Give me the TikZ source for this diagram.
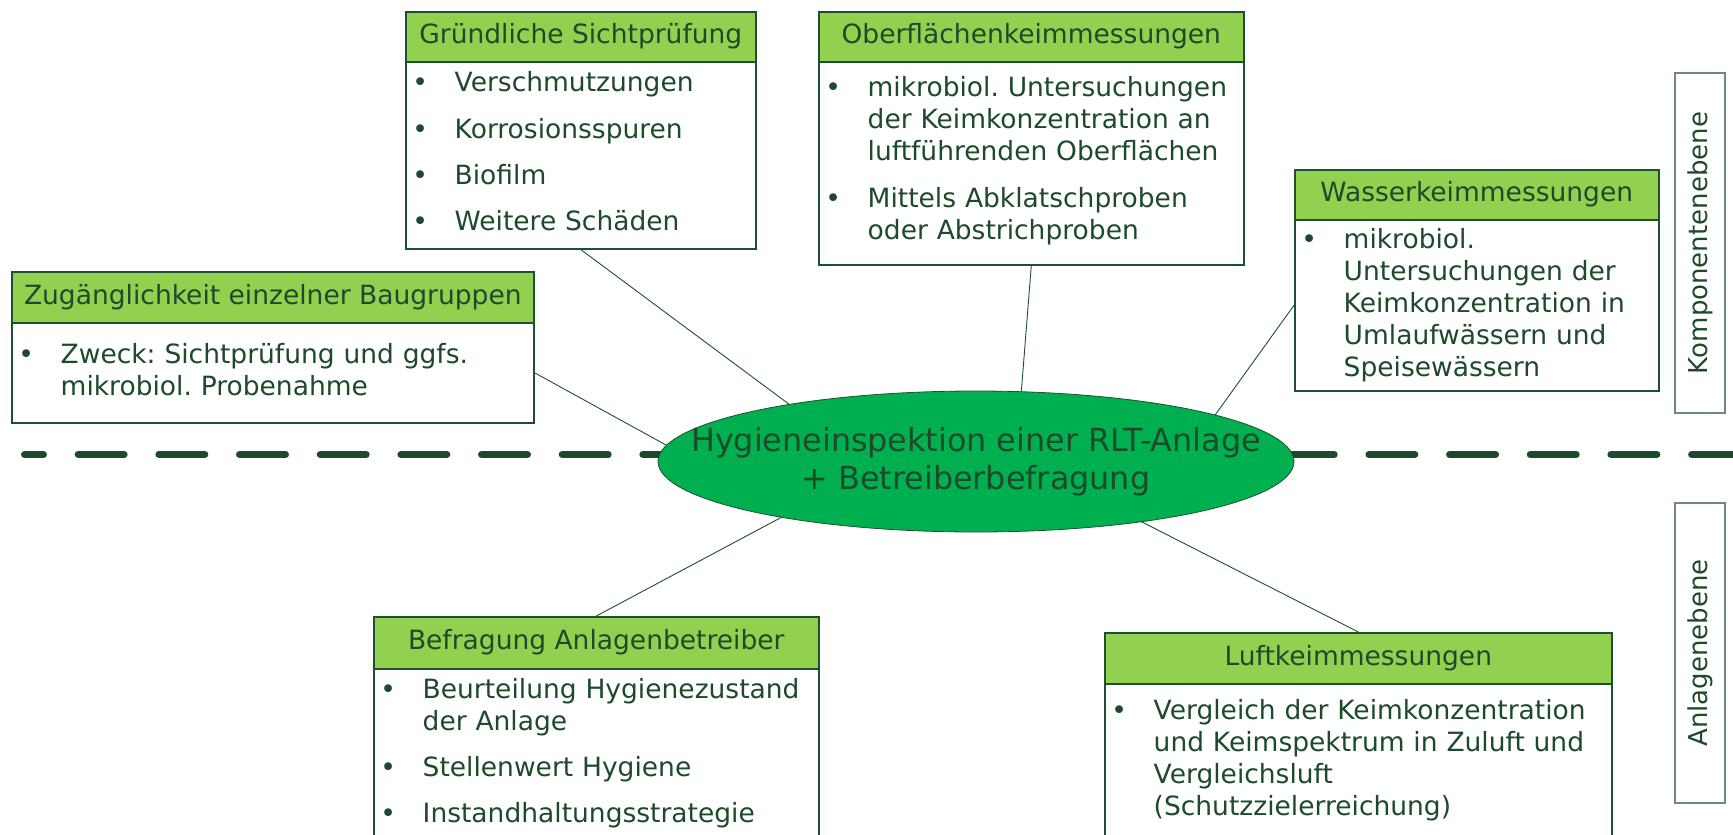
\documentclass[tikz,border=0pt]{standalone}
\usepackage{fontspec}
\setmainfont{DejaVu Sans}
\usetikzlibrary{shapes.geometric}

\definecolor{txtgreen}{HTML}{1C4A2A}
\definecolor{linegreen}{HTML}{1E5030}
\definecolor{headgreen}{HTML}{92D050}
\definecolor{ovalgreen}{HTML}{00B050}
\definecolor{sidegray}{HTML}{6E8C74}

\newcommand{\itm}[1]{\hangindent=49.5pt\hangafter=1\noindent
  \makebox[49.5pt][l]{\hspace{15pt}\makebox[0pt][c]{\textbullet}}#1\par}

\begin{document}
\begin{tikzpicture}[x=1pt, y=-1pt,
    head/.style={draw=linegreen, line width=1.6pt, fill=headgreen, anchor=north west,
      inner sep=0pt, text=txtgreen, font=\fontsize{26.5}{32}\selectfont,
      text height=20pt, text depth=6.5pt},
    body/.style={draw=linegreen, line width=1.6pt, fill=white, anchor=north west, inner sep=0pt},
    itemtext/.style={anchor=base west, inner sep=0pt, text=txtgreen,
      font=\fontsize{26.5}{32}\selectfont,
      execute at begin node={\raggedright\frenchspacing\setlength{\parskip}{14.3pt}}},
    hub/.style={ellipse, draw=linegreen, line width=0.8pt, fill=ovalgreen,
      minimum width=636pt, minimum height=141pt, inner sep=0pt, outer sep=0pt},
    hubtext/.style={text=txtgreen, font=\fontsize{31.8}{38.3}\selectfont, align=center},
    link/.style={draw=linegreen, line width=0.9pt},
    level/.style={draw=sidegray, line width=1.5pt, rotate=90, minimum height=50pt,
      inner sep=0pt, text=txtgreen, font=\fontsize{26}{30}\selectfont}
  ]
\useasboundingbox (0,0) rectangle (1733,835);
\clip (0,0) rectangle (1733,835);

\draw[txtgreen, line width=7pt, line cap=round, dash pattern=on 46pt off 34.67pt,
  dash phase=27pt] (24.5,454.5) -- (1745,454.5);

\node[body, minimum width=350pt, minimum height=187pt] (gs) at (405,61) {};
\node[head, minimum width=350pt, minimum height=50pt] (gsh) at (405,11) {Gründliche Sichtprüfung};
\node[itemtext, text width=344pt] at (405,91.7)
  {\itm{Verschmutzungen}\itm{Korrosionsspuren}\itm{Biofilm}\itm{Weitere Schäden}};

\node[body, minimum width=425pt, minimum height=203pt] (of) at (818,61) {};
\node[head, minimum width=425pt, minimum height=50pt] (ofh) at (818,11) {Oberflächenkeimmessungen};
\node[itemtext, text width=419pt] at (818,96.7)
  {\itm{mikrobiol. Untersuchungen\newline der Keimkonzentration an\newline luftführenden Oberflächen}%
   \itm{Mittels Abklatschproben\newline oder Abstrichproben}};

\node[body, minimum width=364pt, minimum height=171pt] (wk) at (1294,219) {};
\node[head, minimum width=364pt, minimum height=50pt] (wkh) at (1294,169) {Wasserkeimmessungen};
\node[itemtext, text width=358pt] at (1294,248.5)
  {\itm{mikrobiol.\newline Untersuchungen der\newline Keimkonzentration in\newline Umlaufwässern und\newline Speisewässern}};

\node[body, minimum width=522pt, minimum height=100pt] (zb) at (11,322) {};
\node[head, minimum width=522pt, minimum height=51pt] (zbh) at (11,271) {Zugänglichkeit einzelner Baugruppen};
\node[itemtext, text width=516pt] at (11,363.3)
  {\itm{Zweck: Sichtprüfung und ggfs.\newline mikrobiol. Probenahme}};

\node[body, minimum width=445pt, minimum height=240pt] (ba) at (373,668) {};
\node[head, minimum width=445pt, minimum height=52pt] (bah) at (373,616) {Befragung Anlagenbetreiber};
\node[itemtext, text width=439pt] at (373,698.3)
  {\itm{Beurteilung Hygienezustand\newline der Anlage}\itm{Stellenwert Hygiene}\itm{Instandhaltungsstrategie}};

\node[body, minimum width=507pt, minimum height=220pt] (lk) at (1104,683) {};
\node[head, minimum width=507pt, minimum height=51pt] (lkh) at (1104,632) {Luftkeimmessungen};
\node[itemtext, text width=501pt] at (1104,719)
  {\itm{Vergleich der Keimkonzentration\newline und Keimspektrum in Zuluft und\newline Vergleichsluft\newline (Schutzzielerreichung)}};

\node[hub] (hyg) at (976,461.5) {};
\node[hubtext] (hygt) at (hyg) {Hygieneinspektion einer RLT-Anlage\\+ Betreiberbefragung};

\draw[link] (gs.south) -- (hyg.163);
\draw[link] (of.south) -- (hyg.57);
\draw[link] (wk.west) -- (hyg.11);
\draw[link] (zb.east) -- (hyg.177);
\draw[link] (bah.north) -- (hyg.196);
\draw[link] (lkh.north) -- (hyg.-20);

\node[level, minimum width=340pt] (komp) at (1700,243) {Komponentenebene};
\node[level, minimum width=300pt] (anl) at (1700,653) {Anlagenebene};
\end{tikzpicture}
\end{document}
